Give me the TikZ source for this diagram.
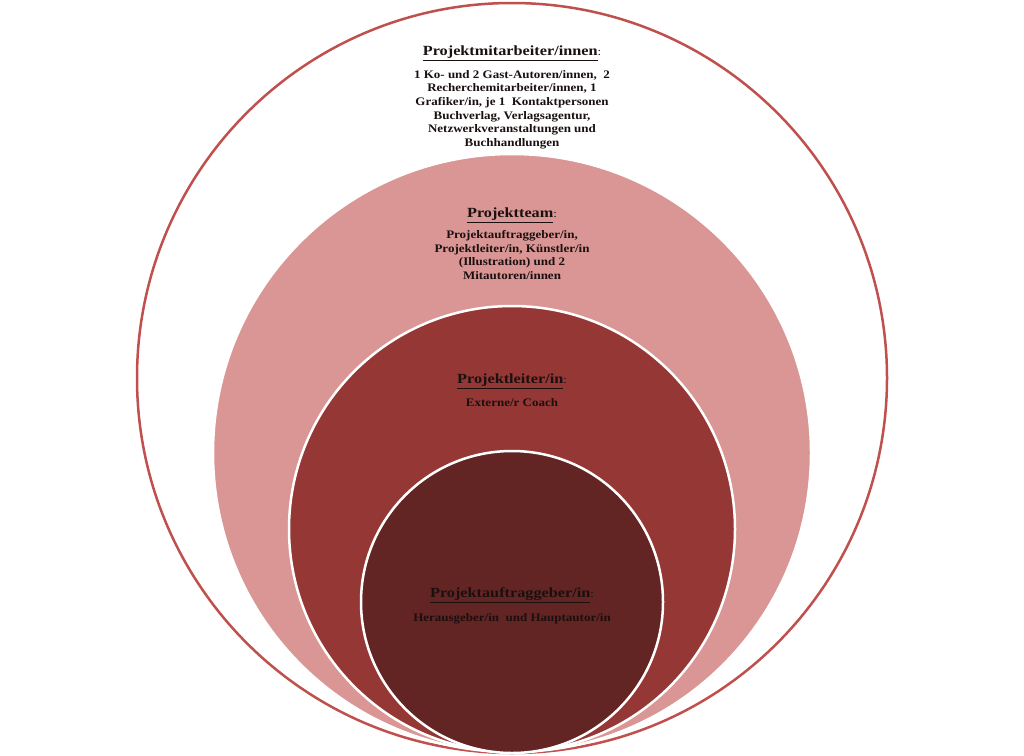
\documentclass[tikz,border=0pt]{standalone}
\usepackage{fontspec}
\setmainfont[FakeStretch=1.13]{Liberation Serif}
\newfontfamily\ttlfont[FakeStretch=1.16]{Liberation Serif}
\definecolor{outerred}{HTML}{C0504D}
\definecolor{pinkfill}{HTML}{D99694}
\definecolor{midred}{HTML}{953735}
\definecolor{darkred}{HTML}{632523}
\definecolor{txt}{HTML}{1A1010}
\tikzset{
  ring/.style={draw=white, line width=2.5pt},
  ttl/.style={font=\ttlfont\bfseries\fontsize{14}{16}\selectfont, text=txt, inner sep=0pt},
  body/.style={font=\bfseries\fontsize{11.5}{13.7}\selectfont, text=txt, align=center, inner sep=0pt},
}
\newcommand{\ttltext}[1]{\underline{#1}{\mdseries\fontsize{11}{12}\selectfont:}}
\begin{document}
\begin{tikzpicture}[x=1pt,y=-1pt]
\useasboundingbox (0,0) rectangle (1024,755);
\fill[white] (0,0) rectangle (1024,755);
\draw[draw=outerred, line width=2.5pt, fill=white] (512,378) circle[radius=375];
\fill[pinkfill, ring] (512,453) circle[radius=299];
\fill[midred, ring] (512,529) circle[radius=223];
\fill[darkred, ring] (512,602) circle[radius=151];

\node[ttl] (t1) at (512,53) {\ttltext{Projektmitarbeiter/innen}};
\node[body, anchor=north] (b1) at (512,70) {1 Ko- und 2 Gast-Autoren/innen,\ \ 2\\Recherchemitarbeiter/innen, 1\\Grafiker/in, je 1\ \ Kontaktpersonen\\Buchverlag, Verlagsagentur,\\Netzwerkveranstaltungen und\\Buchhandlungen};

\node[ttl] (t2) at (512,215) {\ttltext{Projektteam}};
\node[body, anchor=north] (b2) at (512,230) {Projektauftraggeber/in,\\Projektleiter/in, Künstler/in\\(Illustration) und 2\\Mitautoren/innen};

\node[ttl] (t3) at (512,381) {\ttltext{Projektleiter/in}};
\node[body] (b3) at (512,403) {Externe/r Coach};

\node[ttl] (t4) at (512,595) {\ttltext{Projektauftraggeber/in}};
\node[body] (b4) at (512,619) {Herausgeber/in\ \ und Hauptautor/in};
\end{tikzpicture}
\end{document}
